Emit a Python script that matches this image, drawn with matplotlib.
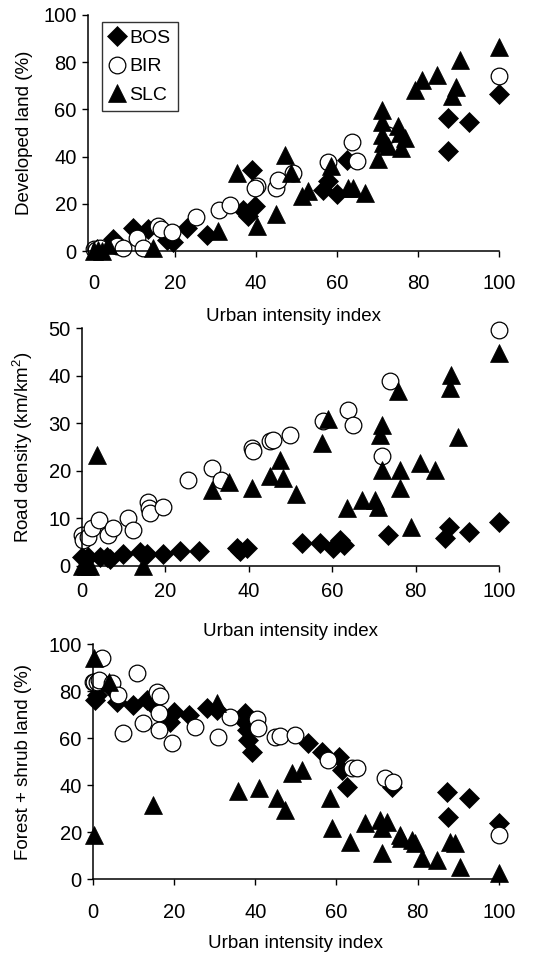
import matplotlib
matplotlib.use("Agg")
import matplotlib.pyplot as plt

plt.rcParams['font.family'] = ['Liberation Sans', 'DejaVu Sans']
plt.rcParams['mathtext.fontset'] = 'custom'
plt.rcParams['mathtext.rm'] = 'Liberation Sans'
plt.rcParams['mathtext.it'] = 'Liberation Sans'

# ---------------- Panel 1: Developed land (%) ----------------
dev_bos_x = [0.6, 4.7, 9.6, 13.3, 17.9, 19.5, 22.8, 27.8, 36.8, 38.0, 39.7, 38.9, 56.4, 57.8, 59.9, 62.4, 87.3, 87.3, 92.7, 100]
dev_bos_y = [1.0, 5.2, 9.9, 9.4, 4.9, 3.9, 9.9, 7.0, 17.6, 15.0, 19.3, 34.5, 25.8, 29.6, 24.2, 38.7, 56.3, 42.5, 54.5, 66.6]

dev_bir_x = [0.0, 0.5, 1.5, 5.5, 7.0, 10.5, 12.0, 15.8, 16.5, 19.1, 25.1, 30.9, 33.5, 40.3, 39.7, 45.0, 45.5, 49.2, 57.8, 63.8, 65.0, 72.5, 100]
dev_bir_y = [1.0, 0.5, 1.4, 2.0, 1.4, 5.6, 1.4, 10.6, 9.2, 8.0, 14.4, 17.3, 19.7, 27.7, 26.8, 26.8, 30.3, 33.1, 37.7, 46.1, 38.3, 49.0, 74.0]

dev_slc_x = [0.0, 1.0, 2.0, 3.5, 14.6, 30.6, 35.2, 40.1, 45.0, 47.1, 48.5, 51.2, 52.9, 58.5, 62.8, 64.0, 67.0, 70.2, 71.0, 71.0, 71.0, 71.4, 72.6, 75.1, 75.5, 75.9, 76.8, 79.3, 80.9, 84.6, 88.3, 89.3, 90.4, 100]
dev_slc_y = [0.0, 0.5, 0.0, 2.8, 1.4, 8.5, 33.0, 10.5, 15.8, 40.8, 33.0, 23.2, 25.4, 36.0, 26.8, 26.8, 24.6, 39.0, 59.9, 54.9, 49.3, 45.8, 44.4, 52.8, 50.0, 43.7, 47.9, 68.3, 72.5, 74.6, 65.5, 69.4, 81.0, 86.6]

# ---------------- Panel 2: Road density (km/km2) ----------------
road_bos_x = [0.0, 1.6, 4.4, 6.0, 6.8, 10.0, 14.0, 15.6, 19.6, 23.6, 28.0, 37.1, 37.9, 39.5, 52.7, 57.0, 60.3, 61.9, 62.9, 73.5, 87.1, 87.9, 92.7, 100]
road_bos_y = [1.9, 1.9, 1.9, 1.9, 1.5, 2.5, 2.8, 2.5, 2.5, 3.0, 3.0, 3.7, 3.2, 3.7, 4.8, 4.7, 3.7, 5.4, 4.4, 6.5, 5.8, 8.2, 7.2, 9.3]

road_bir_x = [0.0, 0.4, 1.6, 2.4, 4.2, 6.4, 7.6, 11.0, 12.4, 16.0, 16.2, 16.4, 19.6, 25.4, 31.2, 33.5, 40.7, 41.1, 45.1, 45.9, 49.8, 57.9, 63.9, 65.1, 71.9, 73.9, 100]
road_bir_y = [6.5, 5.5, 6.1, 7.9, 9.6, 6.5, 7.9, 10.0, 7.5, 13.5, 12.1, 11.0, 12.3, 18.0, 20.5, 18.0, 24.7, 24.2, 26.3, 26.5, 27.5, 30.5, 32.8, 29.6, 23.0, 38.8, 49.6]

road_slc_x = [0.0, 1.0, 2.0, 3.6, 14.8, 31.2, 35.4, 40.7, 45.1, 47.5, 48.3, 51.4, 57.5, 59.1, 63.5, 67.1, 70.3, 71.1, 71.5, 71.9, 72.0, 76.3, 76.3, 75.9, 78.8, 81.0, 84.7, 88.3, 88.6, 90.2, 100]
road_slc_y = [0.0, 0.0, 0.0, 23.3, 0.0, 15.9, 17.7, 16.3, 18.8, 22.3, 18.4, 15.2, 25.8, 31.0, 12.1, 13.8, 13.8, 12.4, 27.5, 29.6, 20.2, 20.2, 16.3, 36.7, 8.2, 21.6, 20.2, 37.4, 40.2, 27.2, 44.7]

# ---------------- Panel 3: Forest + shrub land (%) ----------------
for_bos_x = [0.6, 1.0, 4.3, 5.9, 10.0, 13.3, 14.1, 19.0, 19.9, 23.6, 28.1, 30.5, 37.5, 37.5, 37.9, 38.3, 39.1, 53.1, 56.4, 60.5, 61.3, 62.5, 73.6, 87.1, 87.5, 92.7, 100]
for_bos_y = [76.3, 78.4, 82.0, 75.6, 74.2, 76.3, 75.6, 67.1, 71.3, 69.9, 72.8, 72.0, 70.6, 67.0, 63.5, 59.3, 54.3, 57.9, 54.3, 52.2, 46.5, 39.4, 39.4, 37.3, 26.7, 34.5, 23.8]

for_bir_x = [0.0, 0.2, 1.0, 1.6, 2.2, 4.7, 6.3, 7.4, 10.8, 12.5, 15.8, 16.6, 16.4, 16.2, 19.4, 25.2, 30.9, 33.8, 40.4, 40.8, 44.9, 46.1, 49.8, 58.0, 63.7, 65.1, 71.9, 74.0, 100]
for_bir_y = [84.1, 84.1, 84.1, 84.8, 94.0, 83.4, 78.4, 62.1, 87.7, 66.4, 79.9, 78.0, 70.6, 63.5, 57.9, 65.0, 60.4, 69.2, 68.1, 64.3, 60.7, 61.0, 61.4, 50.8, 47.2, 47.2, 43.0, 41.6, 18.9]

for_slc_x = [0.3, 0.2, 3.9, 14.9, 30.5, 35.7, 40.9, 45.3, 47.3, 49.0, 51.4, 58.4, 58.8, 63.3, 67.0, 70.6, 71.1, 72.4, 71.1, 75.6, 76.0, 78.5, 79.3, 81.0, 84.7, 88.0, 89.2, 90.4, 100]
for_slc_y = [94.0, 18.9, 84.1, 31.6, 74.9, 37.7, 38.7, 34.5, 29.5, 45.1, 46.5, 34.5, 21.7, 16.0, 23.8, 25.2, 21.7, 24.5, 11.1, 18.9, 17.4, 16.7, 15.3, 8.9, 8.2, 16.0, 15.3, 5.4, 2.6]

series_names = ['BOS', 'BIR', 'SLC']
x_ticks = [0, 20, 40, 60, 80, 100]
x_label = 'Urban intensity index'

W, H = 543, 955
fig = plt.figure(figsize=(W / 100, H / 100), dpi=100)

def px_axes(left, right, top, bottom):
    return fig.add_axes([left / W, 1 - bottom / H, (right - left) / W, (bottom - top) / H])

styles = {
    'BOS': dict(marker='D', markersize=10.3, markerfacecolor='black', markeredgecolor='black', markeredgewidth=0.5),
    'BIR': dict(marker='o', markersize=12, markerfacecolor='white', markeredgecolor='black', markeredgewidth=0.9),
    'SLC': dict(marker='^', markersize=13.5, markerfacecolor='black', markeredgecolor='black', markeredgewidth=0.5),
}

panels = [
    dict(box=(87.7, 499, 15, 251.2), xlim=(-1.63, 100), ylim=(0, 100), yticks=[0, 20, 40, 60, 80, 100],
         ylabel='Developed land (%)', ylab_x=33, xlab_y=316, xpad=12,
         data=[(dev_bos_x, dev_bos_y), (dev_bir_x, dev_bir_y), (dev_slc_x, dev_slc_y)]),
    dict(box=(81.7, 499, 328.3, 565.7), xlim=(0, 100), ylim=(0, 50), yticks=[0, 10, 20, 30, 40, 50],
         ylabel='Road density (km/km$^2$)', ylab_x=35, xlab_y=631, xpad=7.5,
         data=[(road_bos_x, road_bos_y), (road_bir_x, road_bir_y), (road_slc_x, road_slc_y)]),
    dict(box=(92.7, 499, 644.3, 879.3), xlim=(0, 100), ylim=(0, 100), yticks=[0, 20, 40, 60, 80, 100],
         ylabel='Forest + shrub land (%)', ylab_x=32, xlab_y=943, xpad=13,
         data=[(for_bos_x, for_bos_y), (for_bir_x, for_bir_y), (for_slc_x, for_slc_y)]),
]

axes = []
for p in panels:
    ax = px_axes(*p['box'])
    for name, (xs, ys) in zip(series_names, p['data']):
        ax.plot(xs, ys, linestyle='none', clip_on=False, label=name, **styles[name])
    ax.set_xlim(*p['xlim'])
    ax.set_ylim(*p['ylim'])
    ax.set_xticks(x_ticks)
    ax.set_yticks(p['yticks'])
    for s in ['top', 'right']:
        ax.spines[s].set_visible(False)
    for s in ['left', 'bottom']:
        ax.spines[s].set_linewidth(1.1)
    ax.tick_params(axis='both', direction='out', length=4.3, width=1.0, labelsize=14.5)
    ax.tick_params(axis='x', pad=p['xpad'])
    ax.tick_params(axis='y', pad=3.5)
    ax.set_ylabel(p['ylabel'], fontsize=13.5)
    ax.set_xlabel(x_label, fontsize=13.5)
    ax.yaxis.set_label_coords(p['ylab_x'] / W, 1 - ((p['box'][2] + p['box'][3]) / 2) / H,
                              transform=fig.transFigure)
    ax.xaxis.set_label_coords(((p['box'][0] + p['box'][1]) / 2) / W, 1 - p['xlab_y'] / H,
                              transform=fig.transFigure)
    ax.xaxis.label.set_va('center')
    axes.append(ax)

leg = axes[0].legend(loc='upper left', bbox_to_anchor=(101.7 / W, 1 - 21.7 / H),
                     bbox_transform=fig.transFigure, frameon=True, fancybox=False,
                     edgecolor='black', fontsize=14, handlelength=0.8, handletextpad=0.2,
                     labelspacing=0.55, borderpad=0.4, borderaxespad=0, markerscale=1.0)
leg.get_frame().set_linewidth(1.0)

fig.savefig('out.png', dpi=100)
